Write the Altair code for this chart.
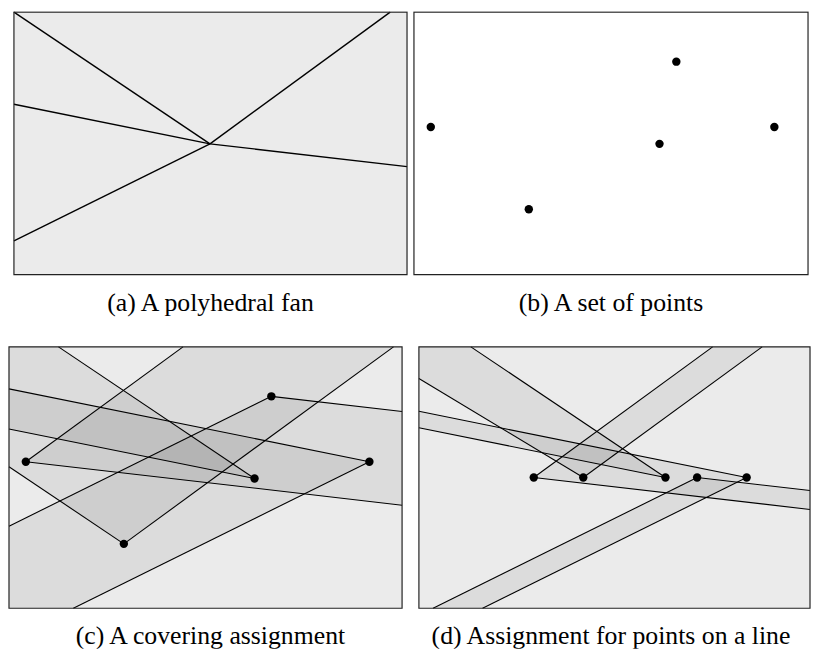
import altair as alt

# ---------------- values (box-relative pixels, y down) ----------------
box_w = [397, 398, 397, 395]
box_h = [265, 265, 264, 264]

# (a) the polyhedral fan: vertex and ray directions (rays listed counter-clockwise)
fan_vertex = [198, 133]
ray_name = ["UR", "UL", "L", "LL", "R", "UL*"]
ray_dx = [182, -198, -198, -198, 199, -166]
ray_dy = [-133, -133, -40, 98, 23, -100]
# maximal cones of the fan (pairs of consecutive rays)
fan_cones = [("UR", "UL"), ("UL", "L"), ("L", "LL"), ("LL", "R"), ("R", "UR")]
fan_rays = ["UR", "UL", "L", "LL", "R"]

# (b), (c) a set of points and the cone assigned to each
pts_x = [17, 116, 248, 265, 364]
pts_y = [116, 199, 133, 50, 116]
cone_c = [("R", "UR"), ("UR", "UL"), ("UL", "L"), ("LL", "R"), ("L", "LL")]

# (d) points on a line and their cones
line_x = [116, 166, 249, 281, 331]
line_y = [132, 132, 132, 132, 132]
cone_d = [("R", "UR"), ("UR", "UL*"), ("UL", "L"), ("LL", "R"), ("L", "LL")]

captions = ["(a) A polyhedral fan", "(b) A set of points",
            "(c) A covering assignment", "(d) Assignment for points on a line"]

# ---------------- layout (chart pixels) ----------------
origin_x = [6, 410, 1, 415]
origin_y = [1, 1, 339, 339]
caption_x = [204.5, 609, 204.5, 609]
caption_y = [295, 295, 631, 631]
W, H = 811, 644

DIR = {n: (dx, dy) for n, dx, dy in zip(ray_name, ray_dx, ray_dy)}


def ray_end(p, d, w, h):
    ts = []
    if d[0] > 0:
        ts.append((w - p[0]) / d[0])
    if d[0] < 0:
        ts.append(-p[0] / d[0])
    if d[1] > 0:
        ts.append((h - p[1]) / d[1])
    if d[1] < 0:
        ts.append(-p[1] / d[1])
    t = min(ts)
    return (p[0] + t * d[0], p[1] + t * d[1])


def _inter(a, b, axis, val):
    t = (val - a[axis]) / (b[axis] - a[axis])
    return (a[0] + t * (b[0] - a[0]), a[1] + t * (b[1] - a[1]))


def clip_poly(poly, w, h):
    for axis, val, ge in [(0, 0, True), (0, w, False), (1, 0, True), (1, h, False)]:
        out = []
        n = len(poly)
        for i in range(n):
            cur, prev = poly[i], poly[i - 1]
            cin = cur[axis] >= val if ge else cur[axis] <= val
            pin = prev[axis] >= val if ge else prev[axis] <= val
            if cin:
                if not pin:
                    out.append(_inter(prev, cur, axis, val))
                out.append(cur)
            elif pin:
                out.append(_inter(prev, cur, axis, val))
        poly = out
        if not poly:
            break
    return poly


def feat_poly(pts, ox, oy):
    ring = [[ox + x, oy + y] for x, y in pts]
    ring.append(ring[0])
    return {"type": "Feature", "properties": {}, "geometry": {"type": "Polygon", "coordinates": [ring]}}


def feat_line(a, b, ox, oy, width=1.1):
    return {"type": "Feature", "properties": {"w": width},
            "geometry": {"type": "LineString", "coordinates": [[ox + a[0], oy + a[1]], [ox + b[0], oy + b[1]]]}}


bg_feats, border_feats, cone_feats, line_feats, fan_feats = [], [], [], [], []
point_rows, caption_rows = [], []

for i in range(4):
    ox, oy, w, h = origin_x[i], origin_y[i], box_w[i], box_h[i]
    rect = [(0, 0), (w, 0), (w, h), (0, h)]
    if i != 1:
        bg_feats.append(feat_poly(rect, ox, oy))
    border_feats.append(feat_poly(rect, ox, oy))
    caption_rows.append({"x": caption_x[i], "y": caption_y[i], "text": captions[i]})


def add_cone(i, p, r1, r2, draw_rays=True):
    ox, oy, w, h = origin_x[i], origin_y[i], box_w[i], box_h[i]
    d1, d2 = DIR[r1], DIR[r2]
    L = 200
    tri = [p, (p[0] + L * d1[0], p[1] + L * d1[1]), (p[0] + L * d2[0], p[1] + L * d2[1])]
    poly = clip_poly(tri, w, h)
    if len(poly) >= 3:
        cone_feats.append(feat_poly(poly, ox, oy))
    if draw_rays:
        for d in (d1, d2):
            line_feats.append(feat_line(p, ray_end(p, d, w, h), ox, oy))


# (a) the fan: each maximal cone at the vertex
for r1, r2 in fan_cones:
    add_cone(0, fan_vertex, r1, r2, draw_rays=False)
for r in fan_rays:
    fan_feats.append(feat_line(fan_vertex, ray_end(fan_vertex, DIR[r], box_w[0], box_h[0]),
                               origin_x[0], origin_y[0]))

# (b) points
for x, y in zip(pts_x, pts_y):
    point_rows.append({"x": origin_x[1] + x, "y": origin_y[1] + y})

# (c), (d) translated cones
for i, xs, ys, cones in [(2, pts_x, pts_y, cone_c), (3, line_x, line_y, cone_d)]:
    for x, y, (r1, r2) in zip(xs, ys, cones):
        add_cone(i, (x, y), r1, r2)
        point_rows.append({"x": origin_x[i] + x, "y": origin_y[i] + y})

proj = dict(type="identity", scale=1, translate=[0, 0])

bg_layer = alt.Chart(alt.Data(values=bg_feats)).mark_geoshape(
    fill="#fbfbfb", strokeWidth=0).project(**proj)
cone_layer = alt.Chart(alt.Data(values=cone_feats)).mark_geoshape(
    fill="black", fillOpacity=0.064, strokeWidth=0).project(**proj)
line_layer = alt.Chart(alt.Data(values=line_feats)).mark_geoshape(
    filled=False, stroke="black", strokeWidth=1.1).project(**proj)
fan_layer = alt.Chart(alt.Data(values=fan_feats)).mark_geoshape(
    filled=False, stroke="black", strokeWidth=1.4).project(**proj)
border_layer = alt.Chart(alt.Data(values=border_feats)).mark_geoshape(
    filled=False, stroke="#222222", strokeWidth=1.2).project(**proj)
point_layer = alt.Chart(alt.Data(values=point_rows)).mark_circle(
    size=72, color="black", opacity=1).encode(longitude="x:Q", latitude="y:Q").project(**proj)
caption_layer = alt.Chart(alt.Data(values=caption_rows)).mark_text(
    font="Liberation Serif", fontSize=26, color="black", baseline="middle", align="center"
).encode(longitude="x:Q", latitude="y:Q", text="text:N").project(**proj)

chart = alt.layer(bg_layer, cone_layer, line_layer, fan_layer, border_layer, point_layer,
                  caption_layer).properties(
    width=W, height=H, padding=0, autosize="none"
).configure_view(stroke=None)

chart.save("out.html", embed_options={"renderer": "svg", "actions": False})
